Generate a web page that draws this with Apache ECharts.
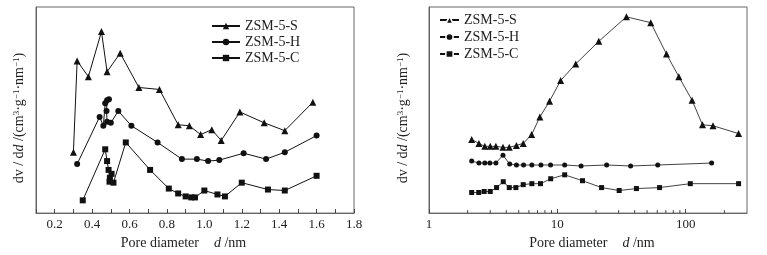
<!DOCTYPE html>
<html>
<head>
<meta charset="utf-8">
<script src="https://cdn.jsdelivr.net/npm/echarts@6/dist/echarts.min.js"></script>
<style>
html, body { margin: 0; padding: 0; background: #fff; }
#chart { width: 767px; height: 255px; }
</style>
</head>
<body>
<div id="chart"></div>
<script>
// left panel (micropores), pore diameter in nm
var leftS_d = [0.30, 0.32, 0.38, 0.45, 0.48, 0.55, 0.65, 0.76, 0.86, 0.92, 0.98, 1.04, 1.09, 1.19, 1.32, 1.43, 1.58];
var leftS_v = [62, 155, 139, 185, 144, 163, 128, 126, 90, 89, 80, 85, 74, 103, 92, 84, 113];
var leftH_d = [0.32, 0.44, 0.46, 0.47, 0.48, 0.49, 0.477, 0.48, 0.50, 0.54, 0.61, 0.75, 0.88, 0.96, 1.02, 1.08, 1.21, 1.33, 1.43, 1.60];
var leftH_v = [50, 98, 89, 112, 115, 116, 104, 93, 92, 104, 89, 72, 55, 55, 53, 54, 61, 55, 62, 79];
var leftC_d = [0.35, 0.47, 0.48, 0.488, 0.504, 0.495, 0.493, 0.514, 0.58, 0.71, 0.81, 0.86, 0.90, 0.93, 0.95, 1.00, 1.07, 1.11, 1.20, 1.34, 1.43, 1.60];
var leftC_v = [13, 65, 53, 44, 40, 36, 32, 31, 72, 44, 25, 20, 17, 16, 16, 23, 19, 17, 31, 24, 23, 38];

// right panel (meso/macropores), log x
var rightS_d = [2.15, 2.45, 2.72, 3.0, 3.32, 3.77, 4.22, 4.8, 5.42, 6.3, 7.31, 8.69, 10.6, 13.9, 21.0, 34.5, 53.4, 70.8, 88.3, 112, 135, 163, 258];
var rightS_v = [75, 71, 68, 68, 68, 67, 67, 69, 71, 80, 98, 114, 135, 152, 175, 200, 194, 162, 139, 115, 90, 89, 81];
var rightH_d = [2.15, 2.45, 2.72, 2.98, 3.32, 3.77, 4.25, 4.8, 5.45, 6.33, 7.45, 8.85, 11.4, 15.3, 24.2, 37.2, 60.5, 159];
var rightH_v = [53, 51, 51, 51, 51, 59, 50, 49, 49, 49, 49, 49, 49, 48, 49, 48, 49, 51];
var rightC_d = [2.15, 2.44, 2.69, 3.0, 3.36, 3.79, 4.22, 4.75, 5.42, 6.33, 7.39, 8.87, 11.4, 15.7, 22.1, 30.3, 41.3, 62.5, 108.5, 258];
var rightC_v = [21, 21, 22, 22, 26, 32, 26, 26, 29, 30, 30, 35, 39, 33, 26, 23, 25, 26, 30, 30];

var names = ['ZSM-5-S', 'ZSM-5-H', 'ZSM-5-C'];
var logMinorTicks = [2, 3, 4, 5, 6, 7, 8, 9, 20, 30, 40, 50, 60, 70, 80, 90, 200];

var FONT = 'Liberation Serif';
var INK = '#111';

function zip(xs, ys) {
    var out = [];
    for (var i = 0; i < xs.length; i++) out.push([xs[i], ys[i]]);
    return out;
}

function lineSeries(name, idx, data, symbol, size, width) {
    return {
        name: name,
        type: 'line',
        xAxisIndex: idx,
        yAxisIndex: idx,
        data: data,
        symbol: symbol,
        symbolSize: size,
        showAllSymbol: true,
        lineStyle: { color: INK, width: width },
        itemStyle: { color: INK },
        animation: false
    };
}

var yName = '{a|dv / d}{i|d}{a| /(cm}{s|3}{a|·g}{s|−1}{a|·nm}{s|−1}{a|)}';
var xName = '{a|Pore diameter}{i|d}{a| /nm}';
var nameRich = {
    a: { fontFamily: FONT, fontSize: 14, color: '#222' },
    i: { fontFamily: FONT, fontSize: 14, color: '#222', fontStyle: 'italic' },
    s: { fontFamily: FONT, fontSize: 9, color: '#222', padding: [0, 0, 6, 0] }
};
var xRich = {
    a: { fontFamily: FONT, fontSize: 14, color: '#222' },
    i: { fontFamily: FONT, fontSize: 14, color: '#222', fontStyle: 'italic', padding: [0, 0, 0, 15] }
};

function yAxis(idx, gap) {
    return {
        type: 'value', gridIndex: idx, min: 0, max: 210,
        axisLine: { show: true, lineStyle: { color: '#666' } },
        axisTick: { show: false },
        axisLabel: { show: false },
        splitLine: { show: false },
        name: yName, nameLocation: 'middle', nameGap: gap,
        nameTextStyle: { rich: nameRich, padding: [0, 16, 0, 0] }
    };
}

var chart = echarts.init(document.getElementById('chart'));
var option = {
    animation: false,
    grid: [
        { left: 36, top: 7, width: 318, height: 210, show: true, borderColor: '#666', borderWidth: 1 },
        { left: 429, top: 7, width: 318, height: 210, show: true, borderColor: '#666', borderWidth: 1 }
    ],
    xAxis: [{
        type: 'value', gridIndex: 0, min: 0.1, max: 1.8, interval: 0.1,
        axisLine: { lineStyle: { color: '#666' } },
        axisTick: { inside: true, length: 4, lineStyle: { color: '#444' } },
        axisLabel: {
            margin: 5, fontFamily: FONT, fontSize: 13, color: '#222',
            formatter: function (v) { return Math.round(v * 10) % 2 === 0 ? v.toFixed(1) : ''; }
        },
        splitLine: { show: false },
        name: xName, nameLocation: 'middle', nameGap: 20,
        nameTextStyle: { rich: xRich, padding: [0, 23, 0, 0] }
    }, {
        type: 'log', gridIndex: 1, min: 1, max: 300, logBase: 10,
        axisLine: { lineStyle: { color: '#666' } },
        axisTick: { inside: true, length: 4, lineStyle: { color: '#444' } },
        axisLabel: { margin: 5, fontFamily: FONT, fontSize: 13, color: '#222', showMaxLabel: false },
        splitLine: { show: false },
        name: xName, nameLocation: 'middle', nameGap: 20,
        nameTextStyle: { rich: xRich, padding: [0, 0, 0, 8] }
    }],
    yAxis: [yAxis(0, 9), yAxis(1, 18)],
    legend: [{
        orient: 'vertical', left: 206, top: 14,
        itemWidth: 28, itemHeight: 8, itemGap: 2,
        textStyle: { fontFamily: FONT, fontSize: 14, color: '#222', lineHeight: 14 },
        data: names
    }, {
        orient: 'vertical', left: 434, top: 8,
        itemWidth: 19, itemHeight: 9, itemGap: 3,
        itemStyle: { borderColor: '#fff', borderWidth: 1.5 },
        textStyle: { fontFamily: FONT, fontSize: 14, color: '#222', lineHeight: 14 },
        data: names
    }],
    series: [
        lineSeries(names[0], 0, zip(leftS_d, leftS_v), 'triangle', 7, 1),
        lineSeries(names[1], 0, zip(leftH_d, leftH_v), 'circle', 6, 1),
        lineSeries(names[2], 0, zip(leftC_d, leftC_v), 'rect', 6, 1),
        lineSeries(names[0], 1, zip(rightS_d, rightS_v), 'triangle', 7, 0.8),
        lineSeries(names[1], 1, zip(rightH_d, rightH_v), 'circle', 5, 0.8),
        lineSeries(names[2], 1, zip(rightC_d, rightC_v), 'rect', 5, 0.8),
        {
            // minor ticks of the log axis (2..9 per decade)
            type: 'custom', xAxisIndex: 1, yAxisIndex: 1, silent: true,
            data: logMinorTicks.map(function (v) { return [v, 0]; }),
            renderItem: function (params, api) {
                var p = api.coord([api.value(0), 0]);
                return {
                    type: 'line',
                    shape: { x1: p[0], y1: p[1], x2: p[0], y2: p[1] - 3 },
                    style: { stroke: '#444', lineWidth: 1 }
                };
            },
            animation: false
        }
    ]
};
chart.setOption(option);
</script>
</body>
</html>
